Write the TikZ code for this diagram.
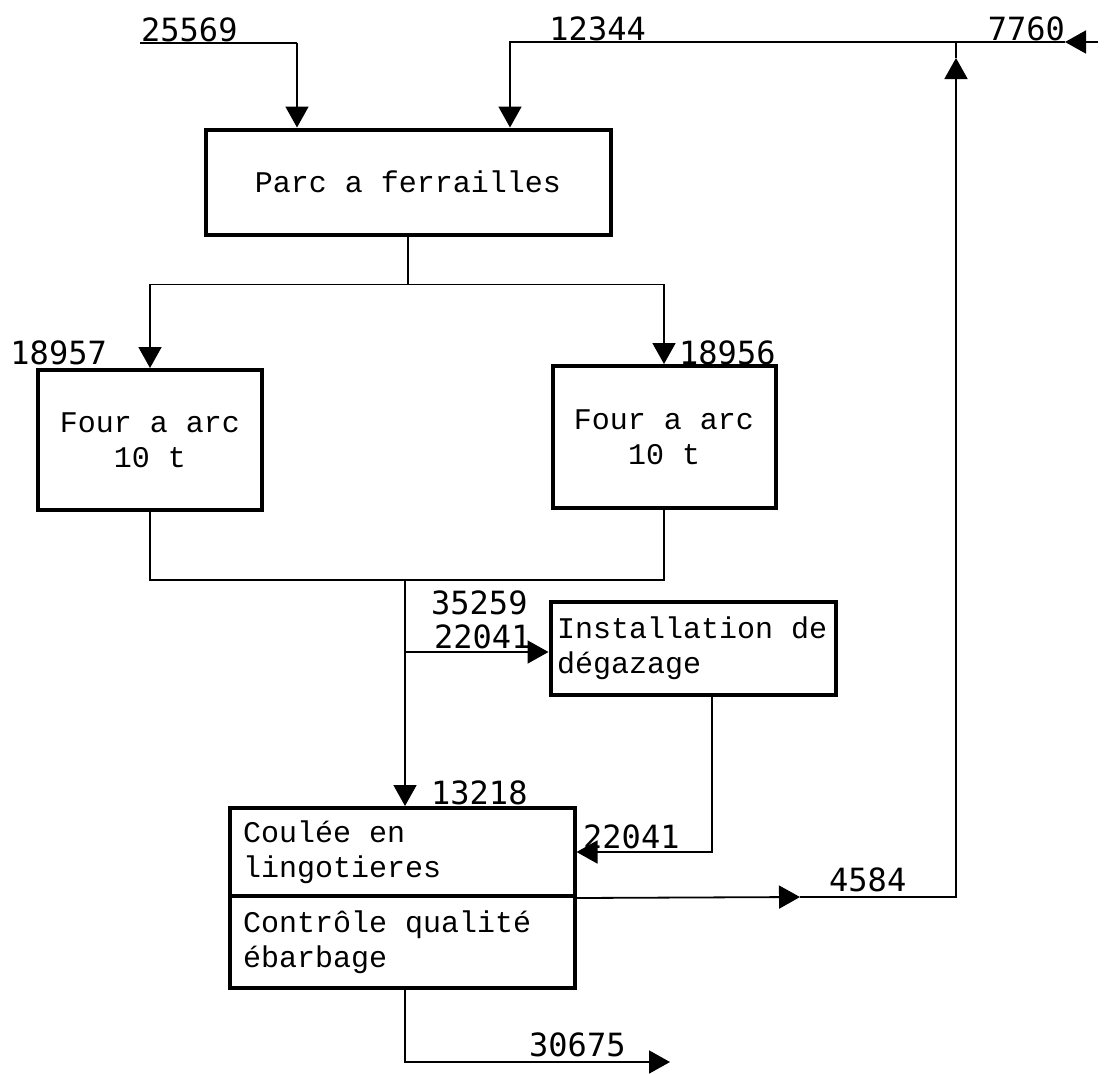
\documentclass[tikz,border=0pt]{standalone}
\usepackage{fontspec}
\setmainfont{Liberation Mono}
\newfontfamily\numfont{DejaVu Sans Mono}
\usetikzlibrary{positioning,arrows.meta,calc}

\begin{document}
\begin{tikzpicture}[
  x=1pt, y=-1pt,
  font=\fontsize{30}{35}\selectfont,
  >={Triangle[length=21pt, width=23pt]},
  box/.style={draw, line width=4pt, align=center, inner sep=0pt},
  lbox/.style={box, align=flush left, text width=#1},
  arr/.style={->, line width=1.8pt},
  ln/.style={line width=1.8pt},
  num/.style={font=\numfont\fontsize{32}{36}\selectfont, inner sep=1pt}
]
\useasboundingbox (0,0) rectangle (1107,1073);
% ---------------- boxes
\node[box, minimum width=405pt, minimum height=105pt] (park) at (408,182) {Parc a ferrailles};
\node[box, minimum width=224pt, minimum height=140pt] (furnL) at (150,440) {Four a arc\\10 t};
\node[box, minimum width=223pt, minimum height=142pt] (furnR) at (664,437) {Four a arc\\10 t};
\node[lbox=272pt, minimum width=285pt, minimum height=93pt] (degas) at (693,648) {Installation de\\dégazage};
\node[lbox=318pt, minimum width=345pt, minimum height=88pt] (cast) at (402,852) {Coulée en\\lingotieres};
\node[lbox=318pt, minimum width=345pt, minimum height=92pt, anchor=north, yshift=4pt] (ctrl) at (cast.south) {Contrôle qualité\\ébarbage};
% ---------------- junction points
\coordinate (in1) at (140,43);
\coordinate (j1) at (297,43);
\coordinate (in3) at (1098,42);
\coordinate (tip3) at (1065,42);
\coordinate (j3) at (956,42);
\coordinate (j2) at (510,42);
\coordinate (sp) at ($(park.south)+(0,48)$);
\coordinate (mg) at (405,580);
\coordinate (br) at (405,652);
\coordinate (up) at (956,58);
\coordinate (tip4) at (800,897);
\coordinate (out) at (670,1062);
% ---------------- labels
\node[num, anchor=south west] (l25569) at (in1) {25569};
\node[num, anchor=south east] (l12344) at (647,42) {12344};
\node[num, anchor=south east] (l7760) at (1066,42) {7760};
\node[num, anchor=south east] (l18957) at (108,366) {18957};
\node[num, anchor=south west] (l18956) at (678,366) {18956};
\node[num, anchor=north west] (l35259) at (430,590) {35259};
\node[num, anchor=south west] (l22041a) at (433,650) {22041};
\node[num, anchor=south west] (l13218) at (430,806) {13218};
\node[num, anchor=south west] (l22041b) at (582,850) {22041};
\node[num, anchor=south west] (l4584) at (828,893) {4584};
\node[num, anchor=south west] (l30675) at (528,1058) {30675};
% ---------------- connectors
\draw[ln] (in1) -- (j1);
\draw[arr] (j1) -- (j1 |- park.north);
\draw[arr] (in3) -- (tip3);
\draw[arr] (tip3) -- (j2) -- (j2 |- park.north);
\draw[ln] (park.south) -- (sp);
\draw[arr] (sp) -| (furnL.north);
\draw[arr] (sp) -| (furnR.north);
\draw[ln] (furnL.south) |- (mg) -| (furnR.south);
\draw[arr] (mg) -- (cast.north -| mg);
\draw[arr] (br) -- (br -| degas.west);
\draw[arr] (degas.south -| 712,0) |- (cast.east |- 0,852);
\draw[arr] (cast.south east) -- (tip4);
\draw[arr] (tip4) -| (up);
\draw[ln] (up) -- (j3);
\draw[arr] (ctrl.south -| mg) |- (out);
\end{tikzpicture}
\end{document}
